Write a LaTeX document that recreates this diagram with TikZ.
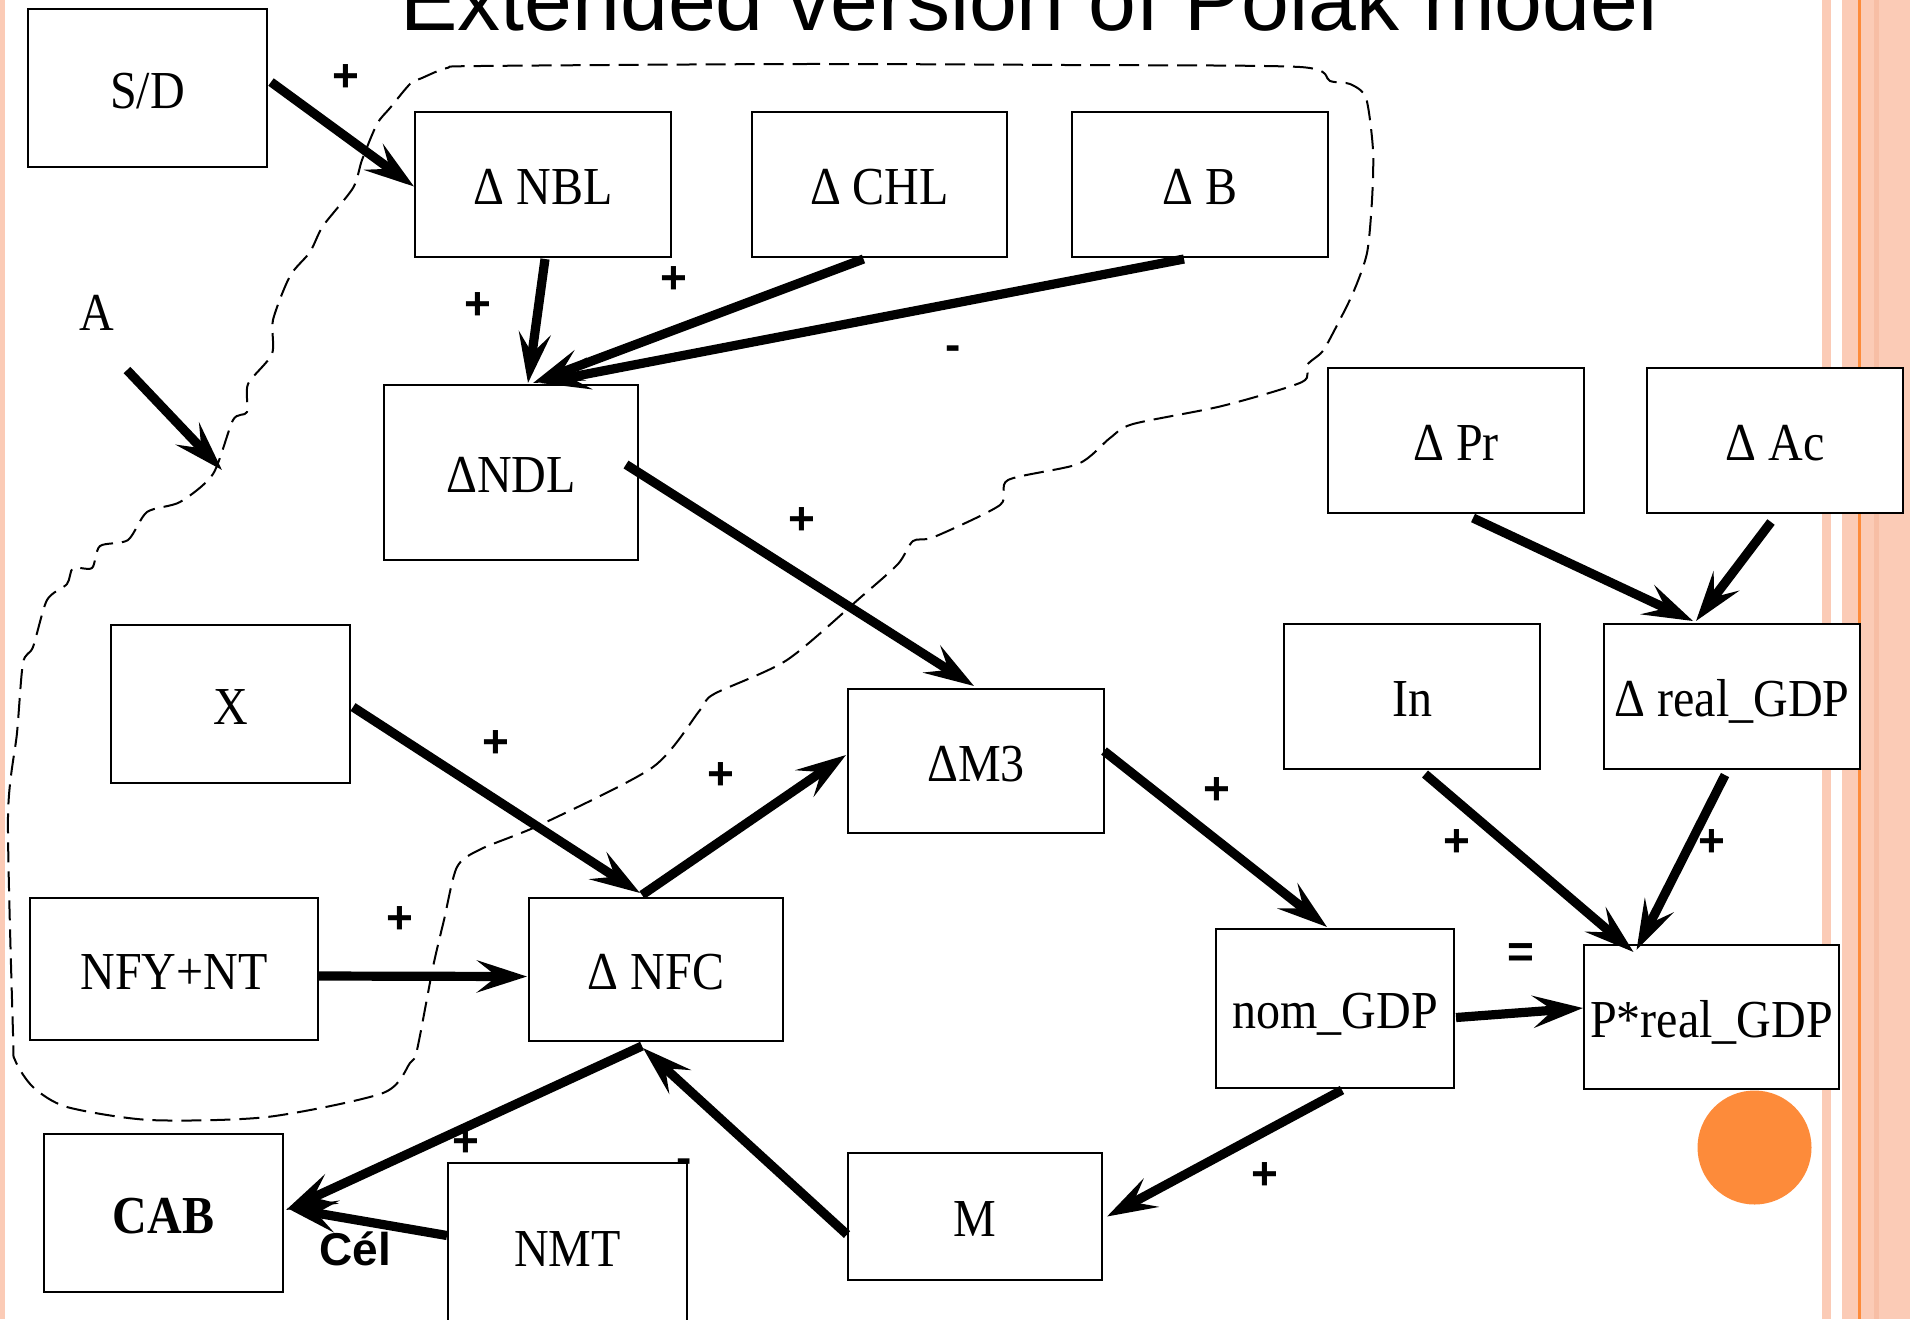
\documentclass[tikz,border=0pt]{standalone}
\usepackage{graphicx}
\usepackage{fontspec}
\setmainfont{Liberation Serif}
\setsansfont{Liberation Sans}
\usetikzlibrary{arrows.meta,calc}
\definecolor{peach}{RGB}{251,203,182}
\definecolor{peachdk}{RGB}{247,190,165}
\definecolor{orng}{RGB}{253,139,58}
\newcommand{\tallt}[1]{\scalebox{0.98}[1.09]{#1}}
\begin{document}
\begin{tikzpicture}[x=0.5pt,y=-0.5pt,
  box/.style={draw=black,line width=1pt,fill=white,inner sep=0pt,
    font=\fontsize{24.5}{28}\selectfont,text height=23pt,text depth=3pt},
  sgn/.style={font=\sffamily\bfseries\fontsize{23}{26}\selectfont,inner sep=0pt},
  conn/.style={line width=4.6pt,line cap=butt,-{Stealth[length=25pt,width=16pt,inset=10pt]}},
  bound/.style={line width=1pt,dash pattern=on 10pt off 4.5pt}
]
\useasboundingbox (0,0) rectangle (1910,1319);
\clip (0,0) rectangle (1910,1319);
% page decoration
\fill[peach] (0,0) rectangle (5,1319);
\fill[peach] (1821.5,0) rectangle (1831,1319);
\fill[peach] (1842,0) rectangle (1910,1319);
\fill[peachdk] (1874,0) rectangle (1879,1319);
\fill[orng] (1858,0) rectangle (1861,1319);
\fill[orng] (1754.5,1147.5) circle[radius=57];
% title
\node[anchor=base west,inner sep=0pt,font=\sffamily\fontsize{43}{50}\selectfont] (title) at (400,30) {Extended version of Polak model};
% dashed boundary
\draw[bound] plot[smooth cycle,tension=0.45] coordinates {
(480,66) (800,64) (1066,65) (1300,67) (1330,81) (1350,84) (1366,98) (1373,150) (1372,200)
(1367,253) (1353,293) (1333,333) (1322,352) (1307,365) (1302,382) (1222,406) (1133,424)
(1110,438) (1078,464) (1008,480) (1000,505) (934,537) (913,541) (898,564) (861,597)
(787,660) (714,694) (700,710) (653,767) (542,824) (481,849) (457,867) (444,920) (433,967)
(417,1050) (410,1063) (383,1093) (267,1117) (150,1120) (67,1107) (33,1087) (15,1060)
(13,1033) (8,817) (17,733) (23,663) (33,647) (47,600) (67,584) (73,568) (92,568) (100,546)
(128,540) (147,512) (180,502) (213,474) (233,420) (247,412) (248,384) (272,354) (273,320)
(290,276) (310,252) (323,226) (353,188) (362,160) (377,124) (390,108) (410,84) (422,78) (447,68)};
% boxes
\node[box,minimum width=119.5pt,minimum height=79.25pt] (sd) at (147.5,88) {\tallt{S/D}};
\node[box,minimum width=128pt,minimum height=72.5pt] (nbl) at (543,184.5) {\tallt{Δ NBL}};
\node[box,minimum width=127.5pt,minimum height=72.5pt] (chl) at (879.5,184.5) {\tallt{Δ CHL}};
\node[box,minimum width=128pt,minimum height=72.5pt] (db) at (1200,184.5) {\tallt{Δ B}};
\node[box,minimum width=127pt,minimum height=87.5pt] (ndl) at (511,472.5) {\tallt{ΔNDL}};
\node[box,minimum width=128pt,minimum height=72.5pt] (pr) at (1456,440.5) {\tallt{Δ Pr}};
\node[box,minimum width=128pt,minimum height=72.5pt] (ac) at (1775,440.5) {\tallt{Δ Ac}};
\node[box,minimum width=119.5pt,minimum height=79pt] (xx) at (230.5,704) {\tallt{X}};
\node[box,minimum width=128pt,minimum height=72pt] (m3) at (976,761) {\tallt{ΔM3}};
\node[box,minimum width=128pt,minimum height=72.5pt] (inn) at (1412,696.5) {\tallt{In}};
\node[box,minimum width=128pt,minimum height=72.5pt] (rgdp) at (1732,696.5) {\tallt{Δ real\_GDP}};
\node[box,minimum width=144pt,minimum height=71pt] (nfy) at (174,969) {\tallt{NFY+NT}};
\node[box,minimum width=127pt,minimum height=71.5pt] (nfc) at (656,969.5) {\tallt{Δ NFC}};
\node[box,minimum width=119pt,minimum height=79.5pt] (nom) at (1335,1008.5) {\tallt{nom\_GDP}};
\node[box,minimum width=127.5pt,minimum height=72pt] (prg) at (1711.5,1017) {\tallt{P*real\_GDP}};
\node[box,minimum width=119.5pt,minimum height=79pt] (cab) at (163.5,1213) {\tallt{\textbf{CAB}}};
\node[box,minimum width=119.5pt,minimum height=83.5pt] (nmt) at (567.5,1246.5) {\tallt{NMT}};
\node[box,minimum width=127pt,minimum height=63.5pt] (mm) at (975,1216.5) {\tallt{M}};
% free label A
\node[inner sep=0pt,font=\fontsize{24.5}{28}\selectfont,anchor=base] (alab) at (97,330) {\tallt{A}};
\coordinate (astart) at (127,370);
\coordinate (aend) at (222,470);
% connectors
\draw[conn] ($(sd.east)+(3,-6)$) -- ($(nbl.west)+(0,2)$);
\draw[conn] ($(nbl.south)+(2,1)$) -- ($(ndl.north)+(17,-1)$);
\draw[conn] ($(chl.south)+(-16,1)$) -- ($(ndl.north)+(22,-1)$);
\draw[conn] ($(db.south)+(-16,1)$) -- ($(ndl.north)+(29,-1)$);
\draw[conn] ($(ndl.east)+(-13,-8)$) -- ($(m3.north)+(-2,-2)$);
\draw[conn] ($(xx.east)+(2,3)$) -- ($(nfc.north)+(-16,-4)$);
\draw[conn] ($(nfc.north)+(-14,-2)$) -- ($(m3.west)+(-1,-6)$);
\draw[conn] ($(nfy.east)+(0,7)$) -- ($(nfc.west)+(-1,7)$);
\draw[conn] ($(nfc.south)+(-14,4)$) -- ($(cab.east)+(2,-3)$);
\draw[conn] ($(nmt.west)+(0,-11)$) -- ($(cab.east)+(3,-5)$);
\draw[conn] ($(mm.west)+(0,18)$) -- ($(nfc.south)+(-13,6)$);
\draw[conn] ($(m3.east)+(-1,-10)$) -- ($(nom.north)+(-8,-1)$);
\draw[conn] ($(nom.south)+(7,1)$) -- ($(mm.east)+(4,0)$);
\draw[conn] ($(nom.east)+(1,9)$) -- ($(prg.west)+(0,-9)$);
\draw[conn] ($(inn.south)+(13,4)$) -- ($(prg.north)+(-78,8)$);
\draw[conn] ($(rgdp.south)+(-7,5)$) -- ($(prg.north)+(-75,6)$);
\draw[conn] ($(pr.south)+(17,4)$) -- ($(rgdp.north)+(-39,-2)$);
\draw[conn] ($(ac.south)+(-4,8)$) -- ($(rgdp.north)+(-36,-2)$);
\draw[conn] (astart) -- (aend);
% signs
\node[sgn] (s1) at (346,78) {+};
\node[sgn] (s2) at (478,306) {+};
\node[sgn] (s3) at (674,280) {+};
\node[sgn] (s4) at (953,353) {-};
\node[sgn] (s5) at (802,521) {+};
\node[sgn] (s6) at (496,744) {+};
\node[sgn] (s7) at (721,776) {+};
\node[sgn] (s8) at (400,920) {+};
\node[sgn] (s9) at (1217,791) {+};
\node[sgn] (s10) at (1457,843) {+};
\node[sgn] (s11) at (1712,843) {+};
\node[sgn] (s12) at (1521,956) {=};
\node[sgn] (s13) at (1265,1176) {+};
\node[sgn] (s14) at (466,1143) {+};
\node[sgn] (s15) at (684,1166) {-};
\node[sgn,anchor=base] (cel) at (355,1265) {Cél};
\end{tikzpicture}
\end{document}
